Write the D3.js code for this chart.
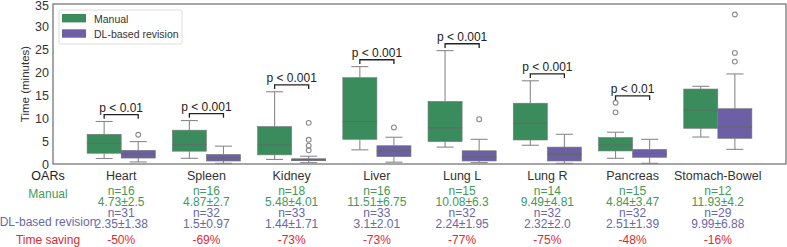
<!DOCTYPE html>
<html>
<head>
<meta charset="utf-8">
<script src="https://cdn.jsdelivr.net/npm/d3@7"></script>
<style>
  body { margin: 0; background: #fff; }
</style>
</head>
<body>
<svg id="chart" width="787" height="247"></svg>
<script>
// Categories (organs at risk)
const categories = ["Heart", "Spleen", "Kidney", "Liver", "Lung L", "Lung R", "Pancreas", "Stomach-Bowel"];

// Box stats: [whiskerLow, q1, median, q3, whiskerHigh]
const manualBoxes = [
  [1.2, 2.35, 4.55, 6.5, 9.3],
  [1.25, 2.8, 4.2, 7.4, 9.5],
  [1.0, 2.0, 4.15, 8.2, 15.8],
  [3.1, 5.4, 9.3, 18.9, 21.3],
  [3.7, 4.9, 7.9, 13.7, 24.8],
  [4.1, 5.25, 8.9, 13.3, 18.2],
  [1.25, 2.85, 4.15, 5.8, 6.95],
  [5.9, 7.8, 11.8, 16.4, 17.0]
];
const dlBoxes = [
  [0.45, 1.3, 2.2, 3.0, 4.9],
  [0.15, 0.65, 1.3, 2.1, 3.9],
  [0.3, 0.72, 0.9, 1.15, 1.7],
  [0.4, 1.6, 2.9, 4.0, 5.85],
  [0.3, 0.66, 1.5, 2.9, 5.4],
  [0.15, 0.66, 2.1, 3.7, 6.5],
  [0.15, 1.45, 2.3, 3.2, 5.4],
  [3.2, 5.6, 8.1, 12.1, 19.7]
];
const manualOutliers = [[], [], [], [], [], [], [11.3, 13.4], []];
const dlOutliers = [[6.4], [], [3.0, 4.0, 5.3, 9.0], [8.0], [9.8], [], [], [22.4, 24.3, 32.7]];

// Significance labels (null = none drawn)
const pLabels = ["p < 0.01", "p < 0.001", "p < 0.001", "p < 0.001", "p < 0.001", "p < 0.001", "p < 0.01", null];

// Table under the chart
const manualN = [16, 16, 18, 16, 15, 14, 15, 12];
const manualMean = ["4.73±2.5", "4.87±2.7", "5.48±4.01", "11.51±6.75", "10.08±6.3", "9.49±4.81", "4.84±3.47", "11.93±4.2"];
const dlN = [31, 32, 33, 33, 32, 32, 32, 29];
const dlMean = ["2.35±1.38", "1.5±0.97", "1.44±1.71", "3.1±2.01", "2.24±1.95", "2.32±2.0", "2.51±1.39", "9.99±6.88"];
const timeSaving = ["-50%", "-69%", "-73%", "-73%", "-77%", "-75%", "-48%", "-16%"];

const yTicks = [0, 5, 10, 15, 20, 25, 30, 35];

const font = "Liberation Sans, Arial, sans-serif";
const green = "#3b8c5c";
const purple = "#6c5fa6";
const greenText = "#3f9a5c";
const purpleText = "#6a68a8";
const redText = "#dd2a33";
const gray = "#8a8a8a";

const plot = { left: 53, right: 786, top: 4, bottom: 164 };
const svg = d3.select("#chart").attr("font-family", font);

// Scales
const x = d3.scaleLinear().domain([-0.8, categories.length - 0.2]).range([plot.left, plot.right]);
const y = d3.scaleLinear().domain([0, 35]).range([plot.bottom, plot.top]);
const boxW = x(0.4) - x(0);

// Y tick labels (no tick marks)
svg.append("g")
  .attr("transform", `translate(${plot.left}, 0)`)
  .call(d3.axisLeft(y).tickValues(yTicks).tickSize(0).tickPadding(4))
  .call(g => g.attr("font-family", font))
  .call(g => g.select(".domain").remove())
  .selectAll("text")
  .attr("font-size", "12.5px")
  .attr("fill", "#333")
  .attr("dy", d => d === 35 ? "0.45em" : "0.32em");

// Y-axis label
svg.append("text")
  .attr("transform", "rotate(-90)")
  .attr("x", -(plot.top + plot.bottom) / 2)
  .attr("y", 29)
  .attr("text-anchor", "middle")
  .attr("font-size", "11.5px")
  .attr("fill", "#333")
  .text("Time (minutes)");

// Draw one box per series
function drawBoxes(boxes, outliers, offset, color) {
  const g = svg.append("g");
  boxes.forEach((b, i) => {
    const cx = x(i + offset);
    const [lo, q1, med, q3, hi] = b;
    // whiskers
    g.append("line").attr("x1", cx).attr("x2", cx).attr("y1", y(q3)).attr("y2", y(hi))
      .attr("stroke", gray).attr("stroke-width", 1.1);
    g.append("line").attr("x1", cx).attr("x2", cx).attr("y1", y(q1)).attr("y2", y(lo))
      .attr("stroke", gray).attr("stroke-width", 1.1);
    // caps
    [lo, hi].forEach(v => {
      g.append("line").attr("x1", cx - boxW / 4).attr("x2", cx + boxW / 4)
        .attr("y1", y(v)).attr("y2", y(v))
        .attr("stroke", gray).attr("stroke-width", 1.1);
    });
    // box
    g.append("rect")
      .attr("x", cx - boxW / 2)
      .attr("y", y(q3))
      .attr("width", boxW)
      .attr("height", y(q1) - y(q3))
      .attr("fill", color)
      .attr("stroke", "#7a7a7a")
      .attr("stroke-width", 0.6);
    // median
    g.append("line").attr("x1", cx - boxW / 2).attr("x2", cx + boxW / 2)
      .attr("y1", y(med)).attr("y2", y(med))
      .attr("stroke", "#5f6a64").attr("stroke-width", 1.1);
    // outliers
    g.selectAll(null)
      .data(outliers[i])
      .enter()
      .append("circle")
      .attr("cx", cx)
      .attr("cy", d => y(d))
      .attr("r", 2.4)
      .attr("fill", "none")
      .attr("stroke", gray)
      .attr("stroke-width", 1.1);
  });
}

drawBoxes(manualBoxes, manualOutliers, -0.2, green);
drawBoxes(dlBoxes, dlOutliers, 0.2, purple);

// Significance brackets
pLabels.forEach((p, i) => {
  if (!p) return;
  const top = d3.max([manualBoxes[i][4], dlBoxes[i][4], ...manualOutliers[i], ...dlOutliers[i]]);
  const yl = y(top + 1.5);
  const yt = y(top + 0.6);
  const x1 = x(i - 0.2), x2 = x(i + 0.2);
  svg.append("path")
    .attr("d", `M${x1},${yt}L${x1},${yl}L${x2},${yl}L${x2},${yt}`)
    .attr("fill", "none")
    .attr("stroke", "#222")
    .attr("stroke-width", 1.3);
  svg.append("text")
    .attr("x", (x1 + x2) / 2)
    .attr("y", yl - 3)
    .attr("text-anchor", "middle")
    .attr("font-size", "12px")
    .attr("fill", "#222")
    .text(p);
});

// Frame
svg.append("rect")
  .attr("x", plot.left)
  .attr("y", plot.top)
  .attr("width", plot.right - plot.left)
  .attr("height", plot.bottom - plot.top)
  .attr("fill", "none")
  .attr("stroke", "#808080")
  .attr("stroke-width", 1.4);

// Legend
const legend = svg.append("g");
legend.append("rect")
  .attr("x", 59).attr("y", 10).attr("width", 123).attr("height", 34)
  .attr("rx", 2)
  .attr("fill", "#fff").attr("stroke", "#dddddd").attr("stroke-width", 1);
[["Manual", green], ["DL-based revision", purple]].forEach(([label, color], k) => {
  legend.append("rect")
    .attr("x", 62).attr("y", 14 + k * 15.3).attr("width", 24).attr("height", 8.4)
    .attr("fill", color);
  legend.append("text")
    .attr("x", 94).attr("y", 22.5 + k * 15.3)
    .attr("font-size", "10.5px")
    .attr("fill", "#333")
    .text(label);
});

// Table below the plot
const table = svg.append("g")
  .attr("font-size", "12px")
  .attr("text-anchor", "middle");
const rowLabelX = 48;
table.append("text").attr("x", rowLabelX).attr("y", 179.5).attr("font-size", "12.5px").attr("fill", "#222").text("OARs");
table.append("text").attr("x", rowLabelX).attr("y", 197.5).attr("fill", greenText).text("Manual");
table.append("text").attr("x", rowLabelX).attr("y", 225.5).attr("fill", purpleText).text("DL-based revision");
table.append("text").attr("x", rowLabelX).attr("y", 244).attr("fill", redText).text("Time saving");

categories.forEach((c, i) => {
  const cx = x(i);
  table.append("text").attr("x", cx).attr("y", 179.5).attr("font-size", "12.5px").attr("fill", "#333").text(c);
  table.append("text").attr("x", cx).attr("y", 194.5).attr("fill", greenText).text("n=" + manualN[i]);
  table.append("text").attr("x", cx).attr("y", 205.5).attr("fill", greenText).text(manualMean[i]);
  table.append("text").attr("x", cx).attr("y", 217).attr("fill", purpleText).text("n=" + dlN[i]);
  table.append("text").attr("x", cx).attr("y", 227.5).attr("fill", purpleText).text(dlMean[i]);
  table.append("text").attr("x", cx).attr("y", 244).attr("fill", redText).text(timeSaving[i]);
});
</script>
</body>
</html>
